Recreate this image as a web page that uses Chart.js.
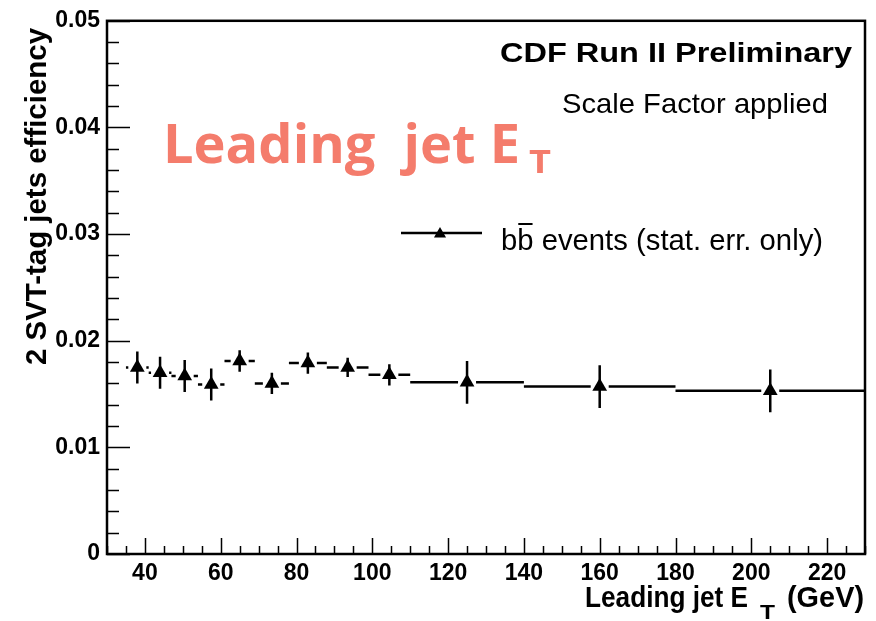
<!DOCTYPE html>
<html>
<head>
<meta charset="utf-8">
<title>2 SVT-tag jets efficiency vs leading jet ET</title>
<script src="https://cdn.jsdelivr.net/npm/chart.js@4.4.1/dist/chart.umd.min.js"></script>
<style>
  html, body { margin: 0; padding: 0; background: #fff; }
  #wrap { width: 876px; height: 621px; }
</style>
</head>
<body>
<div id="wrap"><canvas id="mychart" width="876" height="621"></canvas></div>
<script>
// bin edges, bin centres and efficiency per leading jet ET bin
const binLo = [35, 41, 47, 54, 61, 69, 78, 88, 99, 110, 140, 180];
const binHi = [41, 47, 54, 61, 69, 78, 88, 99, 110, 140, 180, 230];
const etCenter = [38, 44, 50.5, 57.5, 65, 73.5, 83, 93.5, 104.5, 125, 160, 205];
const eff = [0.0175, 0.0170, 0.0167, 0.0159, 0.0181, 0.0160, 0.0179, 0.0175, 0.0168, 0.0161, 0.0157, 0.0153];
const effErr = [0.0015, 0.0015, 0.0015, 0.0015, 0.0010, 0.0010, 0.0010, 0.0009, 0.0010, 0.0020, 0.0020, 0.0020];

const xTicks = [40, 60, 80, 100, 120, 140, 160, 180, 200, 220];
const xMinorStep = 5;
const yTicks = [0, 0.01, 0.02, 0.03, 0.04, 0.05];
const yTickLabels = ['0', '0.01', '0.02', '0.03', '0.04', '0.05'];
const yMinorStep = 0.002;

const tickFont = {family: 'Liberation Sans, Arial, sans-serif', weight: 'bold', size: 23};

// draw text squeezed/stretched so it covers the given width
function fitText(ctx, text, x, y, width, font) {
  ctx.save();
  ctx.font = font;
  let w = ctx.measureText(text).width;
  let sx = width / w;
  ctx.translate(x, y);
  ctx.scale(sx, 1);
  ctx.fillText(text, 0, 0);
  ctx.restore();
  return sx;
}

function drawTriangle(ctx, x, y, r) {
  ctx.beginPath();
  ctx.moveTo(x, y - r);
  ctx.lineTo(x + r * 0.866, y + r * 0.5);
  ctx.lineTo(x - r * 0.866, y + r * 0.5);
  ctx.closePath();
  ctx.fill();
}

const errorBars = {
  id: 'errorBars',
  beforeDatasetsDraw(chart) {
    const ctx = chart.ctx;
    const xs = chart.scales.x;
    const ys = chart.scales.y;
    ctx.save();
    ctx.strokeStyle = '#000';
    ctx.lineWidth = 2.5;
    for (let i = 0; i < eff.length; i++) {
      let px = xs.getPixelForValue(etCenter[i]);
      let py = ys.getPixelForValue(eff[i]);
      let xl = xs.getPixelForValue(binLo[i]);
      let xh = xs.getPixelForValue(binHi[i]);
      let yl = ys.getPixelForValue(eff[i] - effErr[i]);
      let yh = ys.getPixelForValue(eff[i] + effErr[i]);
      ctx.beginPath();
      ctx.moveTo(xl, py); ctx.lineTo(px - 9, py);
      ctx.moveTo(px + 9, py); ctx.lineTo(xh, py);
      ctx.moveTo(px, yh); ctx.lineTo(px, yl);
      ctx.stroke();
    }
    ctx.restore();
  }
};

const frameAndText = {
  id: 'frameAndText',
  afterDraw(chart) {
    const ctx = chart.ctx;
    const a = chart.chartArea;
    const xs = chart.scales.x;
    const ys = chart.scales.y;
    ctx.save();

    // ticks pointing inside the frame
    ctx.strokeStyle = '#000';
    ctx.lineWidth = 1.5;
    ctx.beginPath();
    for (let v = 30; v <= 230; v += xMinorStep) {
      let px = Math.round(xs.getPixelForValue(v)) + 0.5;
      let len = xTicks.includes(v) ? 16 : 8;
      ctx.moveTo(px, a.bottom);
      ctx.lineTo(px, a.bottom - len);
    }
    for (let k = 0; k <= 25; k++) {
      let v = k * yMinorStep;
      let py = Math.round(ys.getPixelForValue(v)) + 0.5;
      let len = (k % 5 === 0) ? 23 : 12;
      ctx.moveTo(a.left, py);
      ctx.lineTo(a.left + len, py);
    }
    ctx.stroke();

    // frame
    ctx.lineWidth = 2.5;
    ctx.strokeRect(a.left, a.top, a.right - a.left, a.bottom - a.top);

    ctx.fillStyle = '#000';
    ctx.textBaseline = 'alphabetic';

    // x axis title
    fitText(ctx, 'Leading jet E', 585, 607, 163, 'bold 30px Liberation Sans');
    fitText(ctx, 'T', 760, 619, 15, 'bold 20px Liberation Sans');
    fitText(ctx, '(GeV)', 787, 607, 77, 'bold 30px Liberation Sans');

    // y axis title
    ctx.save();
    ctx.translate(46, 365);
    ctx.rotate(-Math.PI / 2);
    fitText(ctx, '2 SVT-tag jets efficiency', 0, 0, 337, 'bold 29px Liberation Sans');
    ctx.restore();

    // labels in the pad
    fitText(ctx, 'CDF Run II Preliminary', 500, 62, 352, 'bold 27px Liberation Sans');
    fitText(ctx, 'Scale Factor applied', 562, 113, 266, '28px Liberation Sans');

    // legend
    ctx.lineWidth = 2.5;
    ctx.beginPath();
    ctx.moveTo(401, 233);
    ctx.lineTo(482, 233);
    ctx.stroke();
    drawTriangle(ctx, 440, 234, 7);
    let sx = fitText(ctx, 'bb events (stat. err. only)', 501, 250, 322, '29px Liberation Sans');
    ctx.font = '29px Liberation Sans';
    let wb = ctx.measureText('b').width * sx;
    ctx.fillRect(501 + wb + 1, 223, wb - 2, 2);

    // big overlay title
    ctx.fillStyle = 'rgb(244, 124, 108)';
    fitText(ctx, 'Leading  jet E', 163, 163, 357, 'bold 54px Open Sans');
    fitText(ctx, 'T', 529, 173, 22, 'bold 33px Open Sans');

    ctx.restore();
  }
};

const data = {
  datasets: [{
    label: 'bb events (stat. err. only)',
    data: etCenter.map((x, i) => ({x: x, y: eff[i]})),
    pointStyle: 'triangle',
    pointRadius: 8.5,
    pointHoverRadius: 8.5,
    backgroundColor: '#000',
    borderColor: '#000',
    borderWidth: 0,
    showLine: false,
  }]
};

const config = {
  type: 'scatter',
  data: data,
  options: {
    responsive: false,
    animation: false,
    layout: { padding: {left: 0, top: 19, right: 11, bottom: 0} },
    plugins: {
      legend: { display: false },
      tooltip: { enabled: false },
    },
    scales: {
      x: {
        type: 'linear',
        min: 30,
        max: 230,
        grid: { display: false, drawTicks: false },
        border: { display: false },
        afterBuildTicks: s => { s.ticks = xTicks.map(v => ({value: v})); },
        afterFit: s => { s.height = 67; },
        ticks: {
          font: tickFont,
          color: '#000',
          padding: 6,
          maxRotation: 0,
          callback: v => String(v),
        },
      },
      y: {
        type: 'linear',
        min: 0,
        max: 0.05,
        grid: { display: false, drawTicks: false },
        border: { display: false },
        afterBuildTicks: s => { s.ticks = yTicks.map(v => ({value: v})); },
        afterFit: s => { s.width = 107; },
        ticks: {
          font: tickFont,
          color: '#000',
          padding: 7,
          callback: (v, i) => yTickLabels[i],
        },
      },
    },
  },
  plugins: [errorBars, frameAndText],
};

var myChart = new Chart(document.getElementById('mychart'), config);
</script>
</body>
</html>
